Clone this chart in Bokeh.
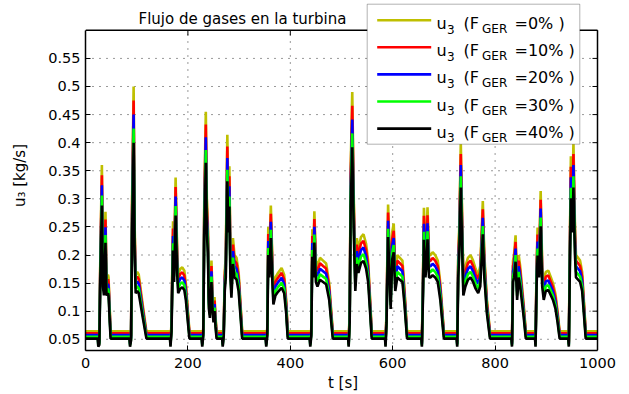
import math
from bokeh.plotting import figure
from bokeh.models import Range1d, FixedTicker, BoxAnnotation, Label
from bokeh.embed import file_html
from bokeh.resources import INLINE

# ---------------- data ----------------
t = [0, 24,
     25, 27, 29, 32, 34, 36, 39, 41, 44, 45, 49,
     86, 87, 89, 91, 94, 96, 98, 101, 104, 112, 119,
     165, 166, 168, 169, 171, 173, 176, 179, 181, 185, 189, 193, 196, 200, 203,
     227, 228, 230, 232, 235, 237, 239, 241, 243, 246, 248, 250, 252, 254, 256,
     267, 268, 270, 272, 274, 277, 279, 281, 283, 285, 288, 291, 295, 299, 303, 306,
     352, 353, 355, 357, 359, 362, 365, 367, 371, 376, 383, 388, 392, 395,
     438, 439, 441, 443, 445, 447, 450, 453, 458, 464, 470, 476, 480, 483,
     513, 514, 516, 518, 521, 524, 527, 530, 533, 538, 543, 548, 552, 556, 559,
     585, 586, 588, 591, 594, 596, 599, 602, 605, 609, 614, 619, 623, 628,
     656, 657, 659, 661, 664, 666, 668, 671, 674, 678, 683, 688, 693, 697, 700,
     725, 726, 728, 730, 733, 736, 738, 742, 747, 752, 757, 762, 767, 771, 776, 779, 784, 790,
     832, 833, 835, 837, 840, 843, 846, 849, 852, 856, 860,
     878, 879, 881, 883, 886, 889, 892, 895, 899, 904, 909, 913, 918, 922, 926,
     943, 944, 946, 948, 951, 953, 956, 958, 962, 966, 970, 974, 977, 1000]

u3_f0 = [0.064, 0.064,
         0.046, 0.05, 0.2, 0.36, 0.18, 0.16, 0.277, 0.16, 0.165, 0.16, 0.064,
         0.064, 0.046, 0.06, 0.3, 0.5, 0.25, 0.165, 0.17, 0.165, 0.11, 0.064,
         0.064, 0.046, 0.08, 0.145, 0.26, 0.19, 0.338, 0.21, 0.165, 0.175, 0.178, 0.172, 0.15, 0.1, 0.064,
         0.064, 0.046, 0.07, 0.3, 0.455, 0.3, 0.255, 0.13, 0.11, 0.19, 0.13, 0.1, 0.125, 0.09, 0.064,
         0.064, 0.046, 0.07, 0.17, 0.2, 0.414, 0.3, 0.358, 0.2, 0.155, 0.23, 0.2, 0.195, 0.17, 0.11, 0.064,
         0.064, 0.046, 0.07, 0.25, 0.2, 0.288, 0.19, 0.14, 0.16, 0.168, 0.177, 0.165, 0.12, 0.064,
         0.064, 0.046, 0.07, 0.246, 0.2, 0.278, 0.19, 0.18, 0.195, 0.19, 0.185, 0.15, 0.1, 0.064,
         0.064, 0.046, 0.1, 0.358, 0.49, 0.3, 0.17, 0.23, 0.21, 0.232, 0.237, 0.22, 0.19, 0.12, 0.064,
         0.064, 0.046, 0.1, 0.29, 0.2, 0.13, 0.24, 0.256, 0.17, 0.2, 0.195, 0.19, 0.14, 0.064,
         0.064, 0.046, 0.15, 0.284, 0.2, 0.23, 0.285, 0.2, 0.2, 0.205, 0.2, 0.19, 0.15, 0.1, 0.064,
         0.064, 0.046, 0.2, 0.25, 0.4, 0.25, 0.16, 0.18, 0.195, 0.2, 0.19, 0.175, 0.165, 0.18, 0.296, 0.2, 0.12, 0.064,
         0.064, 0.046, 0.19, 0.2, 0.235, 0.15, 0.2, 0.18, 0.15, 0.11, 0.064,
         0.064, 0.046, 0.18, 0.249, 0.2, 0.314, 0.18, 0.15, 0.17, 0.172, 0.16, 0.15, 0.13, 0.1, 0.064,
         0.064, 0.046, 0.219, 0.376, 0.3, 0.4, 0.25, 0.2, 0.195, 0.19, 0.17, 0.11, 0.064, 0.064]

u3_f10 = [0.0608, 0.0608,
          0.0437, 0.0475, 0.19, 0.342, 0.171, 0.152, 0.2632, 0.152, 0.1568, 0.152, 0.0608,
          0.0608, 0.0437, 0.057, 0.285, 0.475, 0.2375, 0.1568, 0.1615, 0.1568, 0.1045, 0.0608,
          0.0608, 0.0437, 0.076, 0.1378, 0.247, 0.1805, 0.3211, 0.1995, 0.1568, 0.1663, 0.1691, 0.1634, 0.1425, 0.095, 0.0608,
          0.0608, 0.0437, 0.0665, 0.285, 0.4323, 0.285, 0.2423, 0.1235, 0.1045, 0.1805, 0.1235, 0.095, 0.1188, 0.0855, 0.0608,
          0.0608, 0.0437, 0.0665, 0.1615, 0.19, 0.3933, 0.285, 0.3401, 0.19, 0.1473, 0.2185, 0.19, 0.1853, 0.1615, 0.1045, 0.0608,
          0.0608, 0.0437, 0.0665, 0.2375, 0.19, 0.2736, 0.1805, 0.133, 0.152, 0.1596, 0.1682, 0.1568, 0.114, 0.0608,
          0.0608, 0.0437, 0.0665, 0.2337, 0.19, 0.2641, 0.1805, 0.171, 0.1853, 0.1805, 0.1758, 0.1425, 0.095, 0.0608,
          0.0608, 0.0437, 0.095, 0.3401, 0.4655, 0.285, 0.1615, 0.2185, 0.1995, 0.2204, 0.2252, 0.209, 0.1805, 0.114, 0.0608,
          0.0608, 0.0437, 0.095, 0.2755, 0.19, 0.1235, 0.228, 0.2432, 0.1615, 0.19, 0.1853, 0.1805, 0.133, 0.0608,
          0.0608, 0.0437, 0.1425, 0.2698, 0.19, 0.2185, 0.2708, 0.19, 0.19, 0.1948, 0.19, 0.1805, 0.1425, 0.095, 0.0608,
          0.0608, 0.0437, 0.19, 0.2375, 0.38, 0.2375, 0.152, 0.171, 0.1853, 0.19, 0.1805, 0.1663, 0.1568, 0.171, 0.2812, 0.19, 0.114, 0.0608,
          0.0608, 0.0437, 0.1805, 0.19, 0.2233, 0.1425, 0.19, 0.171, 0.1425, 0.1045, 0.0608,
          0.0608, 0.0437, 0.171, 0.2366, 0.19, 0.2983, 0.171, 0.1425, 0.1615, 0.1634, 0.152, 0.1425, 0.1235, 0.095, 0.0608,
          0.0608, 0.0437, 0.2081, 0.3572, 0.285, 0.38, 0.2375, 0.19, 0.1853, 0.1805, 0.1615, 0.1045, 0.0608, 0.0608]

u3_f20 = [0.0576, 0.0576,
          0.0414, 0.045, 0.18, 0.324, 0.162, 0.144, 0.2493, 0.144, 0.1485, 0.144, 0.0576,
          0.0576, 0.0414, 0.054, 0.27, 0.45, 0.225, 0.1485, 0.153, 0.1485, 0.099, 0.0576,
          0.0576, 0.0414, 0.072, 0.1305, 0.234, 0.171, 0.3042, 0.189, 0.1485, 0.1575, 0.1602, 0.1548, 0.135, 0.09, 0.0576,
          0.0576, 0.0414, 0.063, 0.27, 0.4095, 0.27, 0.2295, 0.117, 0.099, 0.171, 0.117, 0.09, 0.1125, 0.081, 0.0576,
          0.0576, 0.0414, 0.063, 0.153, 0.18, 0.3726, 0.27, 0.3222, 0.18, 0.1395, 0.207, 0.18, 0.1755, 0.153, 0.099, 0.0576,
          0.0576, 0.0414, 0.063, 0.225, 0.18, 0.2592, 0.171, 0.126, 0.144, 0.1512, 0.1593, 0.1485, 0.108, 0.0576,
          0.0576, 0.0414, 0.063, 0.2214, 0.18, 0.2502, 0.171, 0.162, 0.1755, 0.171, 0.1665, 0.135, 0.09, 0.0576,
          0.0576, 0.0414, 0.09, 0.3222, 0.441, 0.27, 0.153, 0.207, 0.189, 0.2088, 0.2133, 0.198, 0.171, 0.108, 0.0576,
          0.0576, 0.0414, 0.09, 0.261, 0.18, 0.117, 0.216, 0.2304, 0.153, 0.18, 0.1755, 0.171, 0.126, 0.0576,
          0.0576, 0.0414, 0.135, 0.2556, 0.18, 0.207, 0.2565, 0.18, 0.18, 0.1845, 0.18, 0.171, 0.135, 0.09, 0.0576,
          0.0576, 0.0414, 0.18, 0.225, 0.36, 0.225, 0.144, 0.162, 0.1755, 0.18, 0.171, 0.1575, 0.1485, 0.162, 0.2664, 0.18, 0.108, 0.0576,
          0.0576, 0.0414, 0.171, 0.18, 0.2115, 0.135, 0.18, 0.162, 0.135, 0.099, 0.0576,
          0.0576, 0.0414, 0.162, 0.2241, 0.18, 0.2826, 0.162, 0.135, 0.153, 0.1548, 0.144, 0.135, 0.117, 0.09, 0.0576,
          0.0576, 0.0414, 0.1971, 0.3384, 0.27, 0.36, 0.225, 0.18, 0.1755, 0.171, 0.153, 0.099, 0.0576, 0.0576]

u3_f30 = [0.0544, 0.0544,
          0.0391, 0.0425, 0.17, 0.306, 0.153, 0.136, 0.2355, 0.136, 0.1403, 0.136, 0.0544,
          0.0544, 0.0391, 0.051, 0.255, 0.425, 0.2125, 0.1403, 0.1445, 0.1403, 0.0935, 0.0544,
          0.0544, 0.0391, 0.068, 0.1233, 0.221, 0.1615, 0.2873, 0.1785, 0.1403, 0.1488, 0.1513, 0.1462, 0.1275, 0.085, 0.0544,
          0.0544, 0.0391, 0.0595, 0.255, 0.3868, 0.255, 0.2168, 0.1105, 0.0935, 0.1615, 0.1105, 0.085, 0.1063, 0.0765, 0.0544,
          0.0544, 0.0391, 0.0595, 0.1445, 0.17, 0.3519, 0.255, 0.3043, 0.17, 0.1318, 0.1955, 0.17, 0.1658, 0.1445, 0.0935, 0.0544,
          0.0544, 0.0391, 0.0595, 0.2125, 0.17, 0.2448, 0.1615, 0.119, 0.136, 0.1428, 0.1505, 0.1403, 0.102, 0.0544,
          0.0544, 0.0391, 0.0595, 0.2091, 0.17, 0.2363, 0.1615, 0.153, 0.1658, 0.1615, 0.1573, 0.1275, 0.085, 0.0544,
          0.0544, 0.0391, 0.085, 0.3043, 0.4165, 0.255, 0.1445, 0.1955, 0.1785, 0.1972, 0.2015, 0.187, 0.1615, 0.102, 0.0544,
          0.0544, 0.0391, 0.085, 0.2465, 0.17, 0.1105, 0.204, 0.2176, 0.1445, 0.17, 0.1658, 0.1615, 0.119, 0.0544,
          0.0544, 0.0391, 0.1275, 0.2414, 0.17, 0.1955, 0.2423, 0.17, 0.17, 0.1743, 0.17, 0.1615, 0.1275, 0.085, 0.0544,
          0.0544, 0.0391, 0.17, 0.2125, 0.34, 0.2125, 0.136, 0.153, 0.1658, 0.17, 0.1615, 0.1488, 0.1403, 0.153, 0.2516, 0.17, 0.102, 0.0544,
          0.0544, 0.0391, 0.1615, 0.17, 0.1998, 0.1275, 0.17, 0.153, 0.1275, 0.0935, 0.0544,
          0.0544, 0.0391, 0.153, 0.2117, 0.17, 0.2669, 0.153, 0.1275, 0.1445, 0.1462, 0.136, 0.1275, 0.1105, 0.085, 0.0544,
          0.0544, 0.0391, 0.1862, 0.3196, 0.255, 0.34, 0.2125, 0.17, 0.1658, 0.1615, 0.1445, 0.0935, 0.0544, 0.0544]

u3_f40 = [0.0512, 0.0512,
          0.0368, 0.04, 0.16, 0.288, 0.144, 0.128, 0.2216, 0.128, 0.132, 0.128, 0.0512,
          0.0512, 0.0368, 0.048, 0.24, 0.4, 0.2, 0.132, 0.136, 0.132, 0.088, 0.0512,
          0.0512, 0.0368, 0.064, 0.116, 0.208, 0.152, 0.2704, 0.168, 0.132, 0.14, 0.1424, 0.1376, 0.12, 0.08, 0.0512,
          0.0512, 0.0368, 0.056, 0.24, 0.364, 0.24, 0.204, 0.104, 0.088, 0.152, 0.104, 0.08, 0.1, 0.072, 0.0512,
          0.0512, 0.0368, 0.056, 0.136, 0.16, 0.3312, 0.24, 0.2864, 0.16, 0.124, 0.184, 0.16, 0.156, 0.136, 0.088, 0.0512,
          0.0512, 0.0368, 0.056, 0.2, 0.16, 0.2304, 0.152, 0.112, 0.128, 0.1344, 0.1416, 0.132, 0.096, 0.0512,
          0.0512, 0.0368, 0.056, 0.1968, 0.16, 0.2224, 0.152, 0.144, 0.156, 0.152, 0.148, 0.12, 0.08, 0.0512,
          0.0512, 0.0368, 0.08, 0.2864, 0.392, 0.24, 0.136, 0.184, 0.168, 0.1856, 0.1896, 0.176, 0.152, 0.096, 0.0512,
          0.0512, 0.0368, 0.08, 0.232, 0.16, 0.104, 0.192, 0.2048, 0.136, 0.16, 0.156, 0.152, 0.112, 0.0512,
          0.0512, 0.0368, 0.12, 0.2272, 0.16, 0.184, 0.228, 0.16, 0.16, 0.164, 0.16, 0.152, 0.12, 0.08, 0.0512,
          0.0512, 0.0368, 0.16, 0.2, 0.32, 0.2, 0.128, 0.144, 0.156, 0.16, 0.152, 0.14, 0.132, 0.144, 0.2368, 0.16, 0.096, 0.0512,
          0.0512, 0.0368, 0.152, 0.16, 0.188, 0.12, 0.16, 0.144, 0.12, 0.088, 0.0512,
          0.0512, 0.0368, 0.144, 0.1992, 0.16, 0.2512, 0.144, 0.12, 0.136, 0.1376, 0.128, 0.12, 0.104, 0.08, 0.0512,
          0.0512, 0.0368, 0.1752, 0.3008, 0.24, 0.32, 0.2, 0.16, 0.156, 0.152, 0.136, 0.088, 0.0512, 0.0512]

f_ger_labels = ["0%", "10%", "20%", "30%", "40%"]
x_ticks = [0, 200, 400, 600, 800, 1000]
y_ticks = [0.05, 0.1, 0.15, 0.2, 0.25, 0.3, 0.35, 0.4, 0.45, 0.5, 0.55]
y_tick_labels = ["0.05", "0.1", "0.15", "0.2", "0.25", "0.3", "0.35", "0.4", "0.45", "0.5", "0.55"]
x_lim = (0, 1000)
y_lim = (0.03, 0.6)

series = [u3_f0, u3_f10, u3_f20, u3_f30, u3_f40]
colors = ["#bfbf00", "#ff0000", "#0000ff", "#00ff00", "#000000"]

# ---------------- layout ----------------
FONT = "DejaVu Sans"
FL, FB = 85, 352            # frame left / bottom (canvas px)
AX_TOP, AX_RIGHT = 30, 597  # where the axes box ends (canvas px)
FR = 600                    # frame right (canvas px)
px_per_y = (FB - AX_TOP) / (y_lim[1] - y_lim[0])
px_per_x = (AX_RIGHT - FL) / (x_lim[1] - x_lim[0])
y_end = y_lim[1] + AX_TOP / px_per_y           # frame reaches the top of the canvas
x_end = x_lim[1] + (FR - AX_RIGHT) / px_per_x

p = figure(width=629, height=394, x_range=Range1d(x_lim[0], x_end), y_range=Range1d(y_lim[0], y_end),
           output_backend="svg", toolbar_location=None,
           min_border_left=FL, min_border_right=629 - FR, min_border_top=0, min_border_bottom=394 - FB)
p.background_fill_color = "white"
p.border_fill_color = "white"
p.outline_line_color = None
p.xgrid.visible = False
p.ygrid.visible = False

for ax, ticks in ((p.xaxis[0], x_ticks), (p.yaxis[0], y_ticks)):
    ax.ticker = FixedTicker(ticks=ticks)
    ax.major_tick_in = 5
    ax.major_tick_out = 0
    ax.minor_tick_line_color = None
    ax.axis_line_width = 1.5
    ax.major_tick_line_width = 1
    ax.major_label_text_font = FONT
    ax.major_label_text_font_size = "14.5px"
    ax.major_label_text_color = "black"
    ax.axis_label_text_font = FONT
    ax.axis_label_text_font_size = "15px"
    ax.axis_label_text_font_style = "normal"
    ax.axis_label_text_color = "black"

p.xaxis[0].bounds = x_lim
p.yaxis[0].bounds = y_lim
p.xaxis[0].axis_label = "t [s]"
p.xaxis[0].major_label_standoff = 7
p.xaxis[0].axis_label_standoff = 3
p.yaxis[0].axis_label = "u\u2083 [kg/s]"
p.yaxis[0].major_label_standoff = 5
p.yaxis[0].axis_label_standoff = 16
p.yaxis[0].major_label_overrides = dict(zip(y_ticks, y_tick_labels))

# dotted grid (limited to the axes box)
inner_x = x_ticks[1:-1]
p.segment(x0=inner_x, y0=[y_lim[0]] * len(inner_x), x1=inner_x, y1=[y_lim[1]] * len(inner_x),
          line_color="black", line_alpha=0.8, line_width=1, line_dash="1 6")
p.segment(x0=[x_lim[0]] * len(y_ticks), y0=y_ticks, x1=[x_lim[1]] * len(y_ticks), y1=y_ticks,
          line_color="black", line_alpha=0.8, line_width=1, line_dash="1 6")

# data
for ys, c in zip(series, colors):
    p.line(t, ys, line_color=c, line_width=2.6)

# box top / right lines and inward ticks
p.segment(x0=[x_lim[0], x_lim[1]], y0=[y_lim[1], y_lim[0]], x1=[x_lim[1], x_lim[1]], y1=[y_lim[1], y_lim[1]],
          line_color="black", line_width=1.5)
p.ray(x=x_ticks, y=[y_lim[1]] * len(x_ticks), length=5, length_units="screen",
      angle=-math.pi / 2, line_color="black", line_width=1)
p.ray(x=[x_lim[1]] * len(y_ticks), y=y_ticks, length=5, length_units="screen",
      angle=math.pi, line_color="black", line_width=1)

# ---------------- title and legend (texts in screen px) ----------------
def sx(x):
    return x - FL

def sy(y):
    return FB - y

p.add_layout(Label(x=sx(138), y=sy(20.5), x_units="screen", y_units="screen",
                   text="Flujo de gases en la turbina", text_font=FONT, text_font_size="15px",
                   text_color="black", text_baseline="alphabetic", text_align="left"))

p.add_layout(BoxAnnotation(left=sx(366.7), right=sx(579.3), top=sy(5.7), bottom=sy(145.7),
                           left_units="screen", right_units="screen",
                           top_units="screen", bottom_units="screen",
                           fill_color="white", fill_alpha=1.0,
                           line_color="black", line_width=1))

for k, (lab, c) in enumerate(zip(f_ger_labels, colors)):
    ly = 21.7 + 27.1 * k
    p.add_layout(BoxAnnotation(left=sx(376.7), right=sx(430.7), top=sy(ly - 1.3), bottom=sy(ly + 1.3),
                               left_units="screen", right_units="screen",
                               top_units="screen", bottom_units="screen",
                               fill_color=c, fill_alpha=1.0, line_color=None))
    base = 25.2 + 27.1 * k
    sub = 30.7 + 27.1 * k
    pieces = [("u", 436.0, base, "16px"), ("3", 446.5, sub, "12px"),
              ("(F", 463.0, base, "16px"), ("GER", 481.5, sub, "12px"),
              ("=" + lab + " )", 514.0, base, "16px")]
    for txt, x, y, size in pieces:
        p.add_layout(Label(x=sx(x), y=sy(y), x_units="screen", y_units="screen", text=txt,
                           text_font=FONT, text_font_size=size, text_color="black",
                           text_baseline="alphabetic", text_align="left"))

open("out.html", "w").write(file_html(p, INLINE))
